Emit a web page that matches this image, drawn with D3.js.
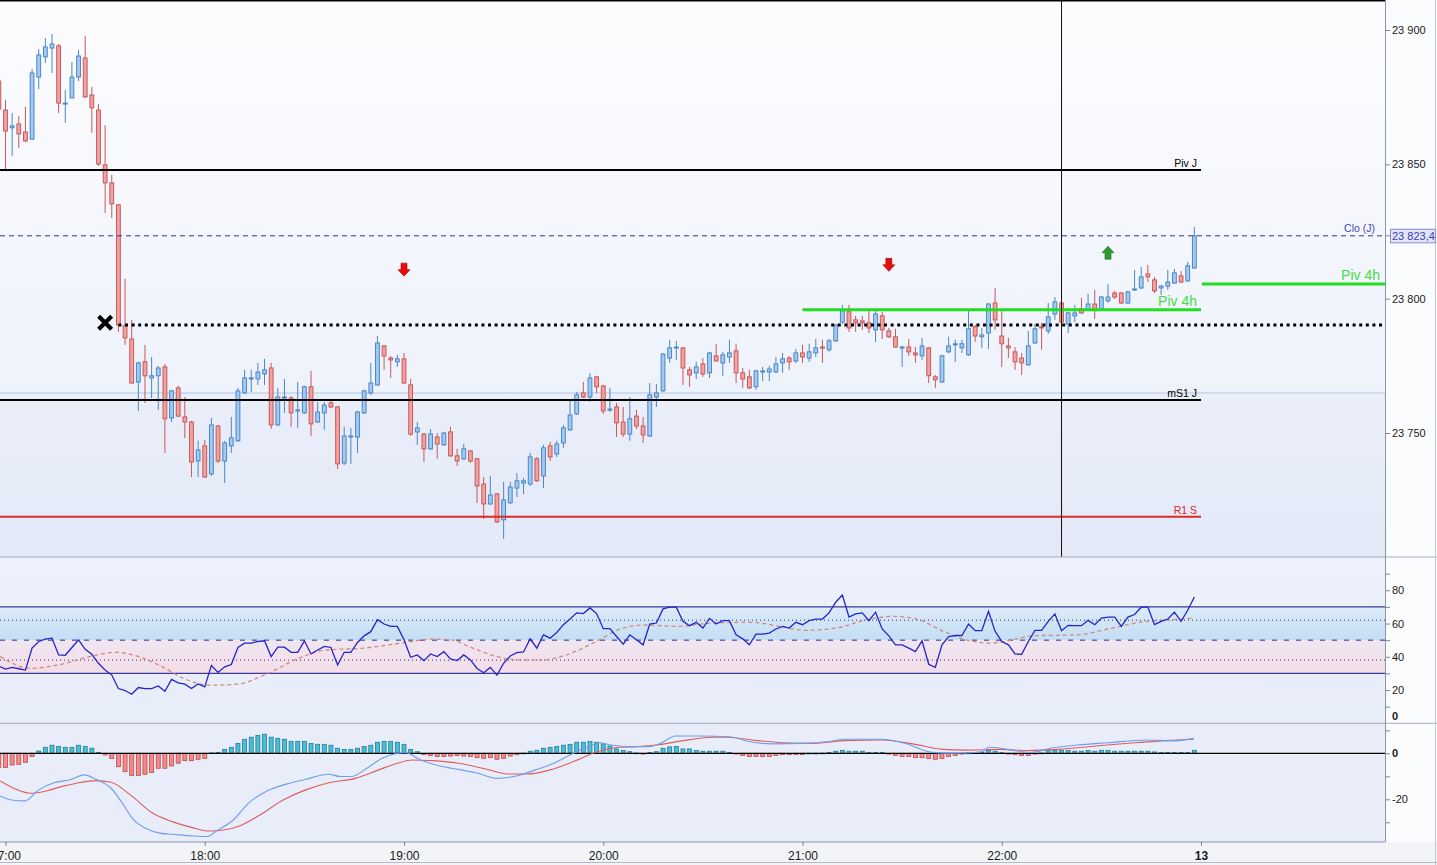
<!DOCTYPE html>
<html><head><meta charset="utf-8"><title>Chart</title>
<script src="https://cdn.jsdelivr.net/npm/d3@7/dist/d3.min.js"></script>
<style>
html,body{margin:0;padding:0;background:#fff;overflow:hidden}
svg{display:block;font-family:"Liberation Sans",Arial,Helvetica,sans-serif}
</style></head><body>
<svg id="chart" width="1437" height="865"></svg>
<script>
// ---------- DATA ----------
const candleStart = new Date(2024, 0, 12, 16, 58); // first (partial) 2-minute candle
const opens = [23881.0,23870.2,23863.6,23865.0,23862.0,23859.4,23882.5,23890.0,23893.3,23894.1,
23872.5,23874.7,23882.5,23889.6,23875.8,23870.2,23849.8,23843.1,23834.9,23789.9,
23785.0,23769.0,23776.5,23770.5,23771.3,23774.6,23755.6,23766.8,23756.0,23754.1,
23739.6,23745.2,23734.8,23752.6,23739.6,23745.2,23747.1,23764.9,23770.1,23770.1,
23772.0,23774.2,23753.0,23763.0,23763.0,23758.2,23757.5,23767.2,23754.1,23757.5,
23761.2,23759.7,23738.8,23748.5,23748.5,23757.5,23764.9,23767.9,23782.4,23777.9,
23776.5,23777.6,23767.9,23750.4,23749.6,23744.1,23748.5,23745.6,23750.4,23741.5,
23740.4,23743.3,23740.4,23731.0,23723.6,23727.3,23717.7,23724.0,23729.5,23731.4,
23731.0,23740.4,23734.0,23745.2,23742.2,23746.3,23751.2,23757.1,23764.9,23763.4,
23770.9,23767.5,23758.6,23759.7,23754.1,23749.6,23756.3,23752.6,23748.9,23763.4,
23765.7,23777.9,23781.7,23781.7,23773.5,23772.4,23775.7,23772.4,23778.7,23776.1,
23778.3,23780.6,23772.4,23770.9,23767.2,23772.7,23772.7,23772.7,23776.1,23777.9,
23776.8,23779.8,23777.9,23779.8,23782.0,23781.0,23784.3,23791.3,23795.1,23792.1,
23791.7,23791.0,23788.4,23793.6,23788.0,23785.8,23781.7,23782.0,23779.8,23778.7,
23781.7,23770.9,23769.0,23780.2,23782.8,23781.7,23779.1,23789.5,23785.8,23787.2,
23798.4,23786.1,23782.4,23780.2,23777.9,23775.4,23783.5,23789.5,23788.0,23794.3,
23798.4,23790.6,23793.6,23796.2,23795.8,23798.0,23796.2,23799.2,23802.1,23802.1,
23798.4,23803.3,23804.0,23809.2,23807.0,23804.0,23804.7,23805.8,23808.5,23806.6,
23811.4];
const highs = [23882.2,23873.9,23869.1,23868.0,23871.4,23885.5,23892.9,23897.0,23898.5,23894.8,
23877.7,23888.1,23892.6,23897.8,23878.8,23872.5,23864.6,23846.1,23835.3,23807.4,
23792.1,23776.5,23782.8,23778.3,23775.0,23775.7,23766.1,23767.6,23763.4,23754.5,
23747.1,23747.5,23755.6,23753.0,23747.1,23756.0,23766.8,23773.5,23773.5,23776.1,
23777.6,23776.1,23766.8,23770.1,23763.8,23769.0,23767.6,23773.1,23761.6,23761.6,
23761.9,23760.1,23752.3,23751.9,23758.2,23766.1,23776.1,23786.1,23782.8,23778.7,
23779.1,23779.8,23770.1,23754.1,23750.0,23751.5,23750.0,23750.4,23752.3,23744.1,
23745.9,23743.7,23740.7,23733.6,23734.0,23727.7,23731.8,23731.8,23735.1,23733.3,
23742.6,23741.1,23745.6,23746.7,23747.1,23753.0,23762.3,23765.3,23769.0,23772.3,
23771.3,23767.9,23766.8,23761.2,23759.7,23763.4,23758.6,23756.0,23768.6,23768.3,
23779.8,23784.7,23784.3,23782.0,23774.6,23776.5,23777.9,23780.2,23783.2,23780.2,
23784.7,23783.2,23774.2,23773.5,23773.5,23774.6,23775.0,23778.3,23779.8,23778.7,
23781.3,23782.8,23783.2,23785.0,23784.7,23785.0,23790.6,23797.7,23797.7,23793.6,
23793.6,23795.4,23795.4,23795.1,23789.1,23788.8,23782.4,23785.0,23782.0,23785.4,
23782.0,23771.6,23779.1,23785.8,23784.7,23784.7,23795.8,23790.2,23789.1,23798.4,
23804.0,23795.8,23785.4,23782.0,23779.8,23788.0,23790.6,23791.0,23798.4,23800.6,
23798.8,23795.1,23797.7,23800.3,23801.8,23803.3,23801.0,23805.5,23802.9,23802.5,
23802.9,23810.7,23811.8,23812.6,23808.1,23805.1,23810.7,23811.1,23810.3,23813.7,
23826.7];
const lows = [23869.5,23847.9,23853.1,23856.1,23858.3,23859.1,23878.0,23887.7,23884.0,23869.1,
23865.4,23874.7,23881.0,23874.7,23861.7,23849.4,23831.9,23830.0,23787.6,23782.8,
23768.3,23758.2,23761.2,23763.0,23758.6,23742.6,23754.1,23756.0,23748.2,23733.6,
23733.6,23733.3,23734.0,23738.8,23731.4,23742.6,23746.7,23764.5,23765.3,23767.9,
23767.9,23751.5,23752.6,23757.5,23752.3,23751.9,23757.1,23748.9,23753.8,23751.2,
23759.3,23736.6,23738.1,23738.5,23742.6,23757.1,23764.2,23767.5,23773.5,23770.5,
23774.6,23768.3,23748.9,23745.6,23739.2,23743.7,23740.4,23745.2,23741.1,23737.7,
23740.0,23738.8,23724.0,23718.0,23723.2,23716.5,23710.6,23723.6,23726.2,23727.3,
23730.3,23731.8,23729.5,23739.6,23741.1,23744.5,23750.8,23756.7,23763.0,23761.6,
23764.9,23757.1,23757.8,23748.5,23748.5,23747.1,23751.5,23746.3,23748.5,23759.7,
23765.3,23776.1,23777.2,23767.9,23767.2,23770.1,23770.9,23770.5,23776.5,23771.2,
23776.1,23768.6,23766.8,23766.4,23766.1,23769.4,23769.4,23772.4,23772.4,23773.5,
23776.1,23776.1,23776.5,23778.3,23776.1,23780.2,23783.9,23790.6,23787.6,23787.6,
23788.4,23787.2,23783.9,23785.0,23785.4,23781.7,23774.6,23778.7,23776.1,23777.2,
23768.6,23766.8,23768.6,23779.8,23776.5,23779.8,23778.7,23783.9,23781.7,23781.3,
23788.4,23774.6,23777.9,23773.5,23771.6,23775.0,23783.2,23781.0,23786.9,23792.1,
23790.2,23787.2,23791.3,23794.3,23795.4,23792.5,23795.8,23798.4,23799.9,23798.0,
23798.0,23802.9,23803.6,23806.2,23802.1,23801.4,23803.3,23805.5,23805.8,23806.2,
23811.1];
const closes = [23870.6,23862.4,23864.3,23861.3,23858.7,23884.0,23890.7,23893.7,23894.8,23872.8,
23872.8,23882.5,23890.3,23875.1,23871.0,23850.1,23843.1,23835.3,23790.2,23785.4,
23768.6,23776.1,23771.3,23771.3,23774.2,23755.3,23765.7,23756.3,23754.1,23739.2,
23743.7,23733.6,23753.0,23739.6,23746.3,23748.2,23765.7,23770.5,23770.5,23772.7,
23773.5,23753.0,23763.4,23763.4,23757.5,23758.6,23767.2,23753.4,23757.8,23760.4,
23759.7,23738.5,23748.9,23748.9,23757.8,23765.7,23768.6,23783.5,23778.7,23777.2,
23777.6,23768.6,23749.6,23751.9,23744.1,23749.6,23745.9,23750.0,23741.5,23739.6,
23744.1,23739.6,23730.3,23723.6,23726.9,23716.9,23725.1,23729.9,23732.2,23732.2,
23741.1,23732.2,23744.5,23741.1,23745.9,23751.9,23756.7,23764.2,23763.4,23770.5,
23767.2,23758.2,23758.9,23753.8,23749.6,23755.3,23752.6,23749.3,23764.2,23764.9,
23779.4,23781.7,23782.0,23774.2,23771.6,23774.6,23772.0,23779.8,23776.8,23779.1,
23779.8,23772.4,23770.1,23766.8,23773.1,23773.1,23773.8,23775.7,23777.6,23776.5,
23779.8,23778.3,23780.2,23781.7,23781.7,23784.3,23790.2,23795.5,23789.1,23791.0,
23791.0,23789.1,23794.3,23788.4,23785.8,23782.0,23782.0,23780.2,23779.1,23782.4,
23771.3,23769.8,23778.7,23782.4,23783.2,23783.2,23788.8,23786.1,23786.5,23798.0,
23792.1,23783.2,23781.7,23776.5,23776.1,23782.4,23788.8,23789.1,23793.2,23798.8,
23791.3,23794.7,23794.7,23794.7,23798.0,23796.2,23800.6,23800.6,23800.6,23798.4,
23802.5,23803.6,23808.1,23808.1,23802.9,23804.7,23806.2,23809.6,23806.2,23812.2,
23823.4];
const rsiValues = [34.4,32.6,33.6,32.8,32.0,45.2,49.2,50.6,51.2,41.1,
40.9,45.6,50.2,44.5,41.5,36.1,32.0,29.0,20.9,19.7,
17.5,21.5,20.9,20.9,22.5,19.3,26.4,24.3,23.5,20.9,
23.7,21.9,34.8,30.6,34.0,35.3,45.6,48.2,48.2,49.2,
49.6,40.1,45.8,45.8,42.7,42.7,49.6,41.7,44.1,46.2,
45.6,35.1,42.7,42.7,48.6,52.6,55.1,62.3,59.7,58.3,
58.3,50.2,39.7,41.1,37.7,41.7,40.1,43.1,38.7,37.7,
41.1,38.1,33.0,30.4,33.6,29.0,36.1,40.5,42.5,42.9,
50.8,45.2,53.2,51.2,54.6,59.3,62.7,66.4,66.0,69.4,
66.0,56.9,56.9,52.2,47.6,53.2,50.2,47.2,59.7,60.3,
68.8,69.8,69.8,61.3,58.7,60.7,57.3,63.1,59.7,61.7,
61.7,53.2,50.8,47.2,53.6,53.6,54.2,56.7,58.3,57.3,
60.7,59.3,61.7,62.7,62.7,66.4,72.8,77.1,63.9,65.8,
66.4,61.7,66.8,56.7,52.6,47.2,47.2,45.2,43.1,49.6,
35.5,33.6,47.2,52.2,52.8,52.8,59.7,55.7,55.7,67.4,
55.3,49.2,47.2,41.7,41.5,49.2,55.9,55.9,61.3,65.8,
55.7,58.9,58.7,58.7,61.9,59.3,63.3,63.9,63.9,58.3,
63.9,65.4,69.8,69.8,59.3,61.3,62.7,66.8,61.3,68.0,
75.9];
// RSI moving average, read at sparse points: [candle position, value]
const rsiMaPoints = [[0.2,40.1],[4.8,33.0],[8.8,35.0],[14.6,41.0],[17.5,42.7],[20.3,41.0],[24.4,34.4],[27.8,27.0],[31.8,22.9],[35.9,23.5],[40.5,30.0],[45.1,39.0],[49.1,44.0],[54.9,45.2],[60.6,48.2],[65.2,50.6],[68.1,50.2],[71.0,45.8],[75.0,40.1],[78.5,38.1],[81.9,38.1],[85.4,41.1],[90.4,50.2],[93.3,56.3],[97.3,59.1],[101.9,58.3],[107.7,60.3],[113.4,60.7],[117.5,58.3],[121.5,55.9],[126.1,57.3],[130.7,62.3],[134.7,64.3],[138.2,62.7],[142.2,55.3],[145.7,50.2],[149.1,48.2],[152.6,50.2],[155.5,52.6],[162.4,53.2],[167.0,56.7],[172.7,61.3],[176.7,62.3],[179.9,63.3]];
const macdHist = [-6.2,-6.2,-5.1,-4.8,-3.9,-1.4,1.0,2.6,3.5,3.0,
2.6,2.6,3.5,3.0,2.2,0.4,-0.7,-2.2,-5.8,-8.0,
-9.6,-9.6,-9.1,-8.3,-6.5,-6.5,-5.5,-4.3,-3.2,-3.2,
-2.6,-2.2,0.2,0.4,1.7,2.6,4.3,6.1,7.0,7.8,
8.3,7.0,6.5,6.1,5.2,5.2,5.2,4.3,3.9,3.9,
3.5,2.2,1.7,1.7,2.2,3.0,3.5,4.8,5.2,5.2,
4.8,3.9,1.7,0.7,-0.6,-1.0,-1.4,-1.4,-1.2,-1.0,
-1.2,-1.4,-1.9,-2.2,-1.9,-2.6,-2.2,-1.2,-0.6,0.1,
0.9,1.3,2.2,2.6,3.0,3.5,3.9,4.8,4.8,5.2,
4.8,4.1,3.2,1.9,1.2,0.7,0.15,-0.1,0.4,0.7,
2.2,2.8,3.0,1.9,1.9,1.2,0.9,0.9,0.9,0.9,
0.4,-0.2,-0.9,-1.4,-1.4,-1.4,-1.4,-0.9,-0.6,-0.6,
-0.6,-0.6,0.05,0.05,0.1,0.4,0.9,1.3,0.9,0.9,
0.9,0.4,0.4,0.4,-0.3,-0.9,-1.4,-1.4,-1.9,-1.9,
-2.3,-2.6,-2.3,-1.4,-0.9,-0.3,0.15,0.4,0.4,1.2,
0.9,0.3,-0.1,-0.6,-0.9,-0.9,-0.1,0.15,1.2,1.3,
1.3,1.2,0.9,0.9,1.2,0.9,1.3,1.3,0.9,0.9,
0.9,0.9,0.9,0.9,0.6,0.4,0.4,0.4,0.4,0.4,
1.3];
const macdLinePoints = [[0.2,-18.6],[1.9,-20.3],[3.9,-20.7],[6.0,-15.9],[8.3,-12.8],[10.6,-11.6],[12.9,-9.4],[14.6,-11.3],[16.9,-15.2],[18.6,-21.7],[20.1,-28.3],[22.1,-32.6],[24.4,-34.8],[26.1,-35.2],[29.0,-35.9],[31.3,-36.2],[33.0,-33.3],[35.3,-29.0],[37.6,-21.7],[40.5,-16.2],[43.4,-13.3],[46.2,-11.3],[49.7,-9.1],[51.4,-10.1],[53.1,-10.1],[55.4,-6.5],[57.7,-2.2],[60.0,0],[61.2,0.3],[63.5,-2.9],[66.4,-5.5],[69.2,-7.0],[72.1,-8.7],[75.0,-10.9],[77.9,-9.9],[80.8,-7.2],[83.6,-4.3],[86.5,0],[88.8,2.9],[90.4,4.6],[92.2,3.6],[95.0,2.9],[97.9,2.9],[99.6,4.3],[101.9,7.5],[105.4,7.5],[110.0,7.2],[112.9,5.1],[116.3,4.1],[120.9,4.3],[124.9,5.1],[127.3,6.1],[133.0,6.1],[136.5,4.3],[140.5,0.4],[144.0,0],[148.0,0.7],[149.1,2.6],[150.9,2.2],[153.2,1.0],[155.5,0.4],[158.3,2.2],[162.4,3.6],[167.0,4.6],[172.7,5.8],[176.7,5.4],[179.9,6.5]];
const signalLinePoints = [[0.2,-12.0],[2.5,-15.5],[4.8,-17.4],[7.1,-16.4],[9.4,-14.5],[11.7,-13.0],[14.6,-11.9],[16.9,-12.6],[19.8,-18.1],[23.2,-26.1],[26.1,-29.7],[29.0,-32.2],[31.8,-33.8],[35.9,-31.9],[39.3,-26.8],[42.8,-20.3],[46.2,-15.9],[49.7,-12.8],[53.7,-10.9],[57.2,-7.2],[60.0,-4.3],[62.3,-2.9],[65.2,-3.2],[69.2,-4.3],[73.3,-6.8],[76.7,-9.0],[79.6,-9.0],[83.0,-7.2],[86.5,-3.6],[90.4,1.0],[93.3,2.6],[96.2,2.9],[99.1,3.6],[103.1,5.5],[107.7,7.0],[110.0,7.0],[113.4,5.8],[118.0,4.6],[122.7,4.3],[127.3,5.5],[133.0,5.8],[137.6,4.1],[142.2,1.7],[145.7,1.4],[150.9,1.7],[154.9,1.2],[159.5,1.7],[165.2,3.2],[171.0,4.6],[175.6,5.5],[179.9,6.1]];

const priceTicks = [23750, 23800, 23850, 23900];
const rsiTicks = [10,20,30,40,50,60,70,80,90];
const rsiLabeled = [20,40,60,80];
const macdTicks = [10,0,-10,-20,-30];
const timeTickLabels = ["17:00","18:00","19:00","20:00","21:00","22:00","13"];
const levelNames = ["Piv J","mS1 J","R1 S"];
const levelValues = [23847.9, 23762.3, 23718.8];
const levelColors = ["#000000","#000000","#e02828"];
const zoneLevel = 23764.9;
const dottedLevel = 23790.2, dottedStartK = 18;
const piv4hValues = [23795.9, 23805.5];
const piv4hStartK = 121;
const closeLevel = 23823.4;
const cursorK = 160;
const downArrows = [[61, 23810.8],[134, 23812.6]];
const upArrows = [[167, 23817.1]];
const crossMark = [16, 23791.0];

// ---------- SETUP ----------
const W = 1437, H = 865, plotR = 1385;
const mainTop = 0, mainBot = 557, rsiBot = 723.3, macdBot = 842;
const svg = d3.select("#chart");
const defs = svg.append("defs");
function grad(id, stops){
  const g = defs.append("linearGradient").attr("id", id).attr("x1",0).attr("y1",0).attr("x2",0).attr("y2",1);
  stops.forEach(([o,c]) => g.append("stop").attr("offset", o).attr("stop-color", c));
}
grad("gMainTop", [[0,"#fdfdff"],[1,"#eef2fb"]]);
grad("gMainBot", [[0,"#e9eef9"],[1,"#e3e9f7"]]);
grad("gRsiHi", [[0,"#dcebf9"],[1,"#c4def4"]]);
grad("gRsiLo", [[0,"#efe6f1"],[1,"#f4dde7"]]);
grad("gRsiBg", [[0,"#edf1fb"],[1,"#e7edf9"]]);
defs.append("clipPath").attr("id","clipMain").append("rect").attr("x",0).attr("y",mainTop).attr("width",plotR).attr("height",mainBot-mainTop);
defs.append("clipPath").attr("id","clipRsi").append("rect").attr("x",0).attr("y",mainBot).attr("width",plotR).attr("height",rsiBot-mainBot);
defs.append("clipPath").attr("id","clipMacd").append("rect").attr("x",0).attr("y",rsiBot).attr("width",plotR).attr("height",macdBot-rsiBot);

const times = d3.range(opens.length).map(k => d3.timeMinute.offset(candleStart, 2*k));
const x = d3.scaleTime()
  .domain([new Date(2024,0,12,17,0), new Date(2024,0,12,23,0)])
  .range([5.5, 1201]);
const xAt = k => x(new Date(+candleStart + k*120000));
const y = d3.scaleLinear().domain([23750, 23900]).range([433, 30]);
const yRsi = d3.scaleLinear().domain([0, 100]).range([rsiBot, mainBot]);
const yMacd = d3.scaleLinear().domain([-20, 0]).range([799.3, 753.3]);
const loc = d3.formatLocale({decimal: ",", thousands: " ", grouping: [3], currency: ["",""]});
const fmt0 = loc.format(",.0f"), fmt1 = loc.format(",.1f");

// ---------- BACKGROUNDS ----------
svg.append("rect").attr("width",W).attr("height",H).attr("fill","#fbfcfe");
const yZone = y(zoneLevel);
svg.append("rect").attr("x",0).attr("y",mainTop).attr("width",plotR).attr("height",yZone-mainTop).attr("fill","url(#gMainTop)");
svg.append("rect").attr("x",0).attr("y",yZone).attr("width",plotR).attr("height",mainBot-yZone).attr("fill","url(#gMainBot)");
svg.append("rect").attr("x",0).attr("y",mainBot).attr("width",plotR).attr("height",rsiBot-mainBot).attr("fill","url(#gRsiBg)");
svg.append("rect").attr("x",0).attr("y",yRsi(70)).attr("width",plotR).attr("height",yRsi(50)-yRsi(70)).attr("fill","url(#gRsiHi)");
svg.append("rect").attr("x",0).attr("y",yRsi(50)).attr("width",plotR).attr("height",yRsi(30)-yRsi(50)).attr("fill","url(#gRsiLo)");
svg.append("rect").attr("x",0).attr("y",rsiBot).attr("width",plotR).attr("height",macdBot-rsiBot).attr("fill","#e8edf9");
svg.append("rect").attr("x",0).attr("y",macdBot).attr("width",W).attr("height",H-macdBot).attr("fill","#f2f4f8");

// ---------- MAIN PANEL ----------
const gMain = svg.append("g").attr("clip-path","url(#clipMain)");
gMain.append("line").attr("x1",0).attr("x2",plotR).attr("y1",yZone).attr("y2",yZone).attr("stroke","#b6c6e2").attr("stroke-width",1);

const candles = opens.map((o,k) => ({k, t: times[k], o, h: highs[k], l: lows[k], c: closes[k]}));
const upStroke = "#4a86c6", upFill = "#a3cbf2", dnStroke = "#c85858", dnFill = "#f3a2a2";
const bw = 3.8;
gMain.append("g").selectAll("line").data(candles).join("line")
  .attr("x1", d => x(d.t)).attr("x2", d => x(d.t))
  .attr("y1", d => y(d.h)).attr("y2", d => y(d.l))
  .attr("stroke", d => d.c >= d.o ? upStroke : dnStroke).attr("stroke-width",1);
gMain.append("g").selectAll("rect").data(candles).join("rect")
  .attr("x", d => x(d.t) - bw/2)
  .attr("y", d => y(Math.max(d.o, d.c)))
  .attr("width", bw)
  .attr("height", d => Math.max(1, Math.abs(y(d.o) - y(d.c))))
  .attr("fill", d => d.c >= d.o ? upFill : dnFill)
  .attr("stroke", d => d.c >= d.o ? upStroke : dnStroke).attr("stroke-width",1);

// close dashed line
gMain.append("line").attr("x1",0).attr("x2",plotR).attr("y1",y(closeLevel)).attr("y2",y(closeLevel))
  .attr("stroke","#34349a").attr("stroke-width",1).attr("stroke-dasharray","5,4");
// level lines
const xLevelEnd = x(new Date(2024,0,12,23,0));
levelValues.forEach((v,i) => {
  gMain.append("line").attr("x1",0).attr("x2",xLevelEnd).attr("y1",y(v)).attr("y2",y(v))
    .attr("stroke",levelColors[i]).attr("stroke-width",2);
  svg.append("text").attr("x",xLevelEnd-4).attr("y",y(v)-3).attr("text-anchor","end")
    .attr("font-size",10.5).attr("fill",levelColors[i]).text(levelNames[i]);
});
// dotted level
gMain.append("line").attr("x1",xAt(dottedStartK)).attr("x2",plotR).attr("y1",y(dottedLevel)).attr("y2",y(dottedLevel))
  .attr("stroke","#000").attr("stroke-width",3).attr("stroke-dasharray","3,3.6");
// Piv 4h lines
gMain.append("line").attr("x1",xAt(piv4hStartK)).attr("x2",xLevelEnd).attr("y1",y(piv4hValues[0])).attr("y2",y(piv4hValues[0]))
  .attr("stroke","#22dd22").attr("stroke-width",3);
gMain.append("line").attr("x1",xLevelEnd+1).attr("x2",plotR).attr("y1",y(piv4hValues[1])).attr("y2",y(piv4hValues[1]))
  .attr("stroke","#22dd22").attr("stroke-width",3);
svg.append("text").attr("x",xLevelEnd-4).attr("y",y(piv4hValues[0])-4).attr("text-anchor","end")
  .attr("font-size",14).attr("fill","#44dc44").text("Piv 4h");
svg.append("text").attr("x",plotR-5).attr("y",y(piv4hValues[1])-4).attr("text-anchor","end")
  .attr("font-size",14).attr("fill","#44dc44").text("Piv 4h");
// cursor vertical line
gMain.append("line").attr("x1",xAt(cursorK)).attr("x2",xAt(cursorK)).attr("y1",mainTop).attr("y2",mainBot)
  .attr("stroke","#111").attr("stroke-width",1);
// arrows
downArrows.forEach(([k,v]) => {
  gMain.append("path").attr("transform",`translate(${xAt(k)},${y(v)})`)
    .attr("d","M-3,-6.5 L3,-6.5 L3,0 L6,0 L0,6.5 L-6,0 L-3,0 Z")
    .attr("fill","#e60d0d").attr("stroke","#a80000").attr("stroke-width",0.6);
});
upArrows.forEach(([k,v]) => {
  gMain.append("path").attr("transform",`translate(${xAt(k)},${y(v)})`)
    .attr("d","M-3,6.5 L3,6.5 L3,0 L6,0 L0,-6.5 L-6,0 L-3,0 Z")
    .attr("fill","#2f9a32").attr("stroke","#1c6a1e").attr("stroke-width",0.6);
});
// cross mark
gMain.append("path").attr("transform",`translate(${xAt(crossMark[0])},${y(crossMark[1])})`)
  .attr("d","M-6.5,-6.5 L6.5,6.5 M6.5,-6.5 L-6.5,6.5")
  .attr("stroke","#000").attr("stroke-width",4.2);
// top border
svg.append("line").attr("x1",0).attr("x2",plotR).attr("y1",0.8).attr("y2",0.8).attr("stroke","#000").attr("stroke-width",1.6);

// Clo label
svg.append("text").attr("x",plotR-10).attr("y",y(closeLevel)-4).attr("text-anchor","end")
  .attr("font-size",10.5).attr("fill","#4646c0").text("Clo (J)");

// ---------- RSI PANEL ----------
const gRsi = svg.append("g").attr("clip-path","url(#clipRsi)");
[70,30].forEach(v =>
  gRsi.append("line").attr("x1",0).attr("x2",plotR).attr("y1",yRsi(v)).attr("y2",yRsi(v))
    .attr("stroke","#3a3aa0").attr("stroke-width",1.2));
gRsi.append("line").attr("x1",0).attr("x2",plotR).attr("y1",yRsi(50)).attr("y2",yRsi(50))
  .attr("stroke","#2a2a80").attr("stroke-width",1).attr("stroke-dasharray","5,7");
[62,38].forEach(v => gRsi.append("line").attr("x1",0).attr("x2",plotR).attr("y1",yRsi(v)).attr("y2",yRsi(v))
  .attr("stroke","#2a2a80").attr("stroke-width",1).attr("stroke-dasharray","1,3"));
gRsi.append("path").datum(rsiMaPoints)
  .attr("d", d3.line().x(d => xAt(d[0])).y(d => yRsi(d[1])).curve(d3.curveMonotoneX))
  .attr("fill","none").attr("stroke","#d38a7e").attr("stroke-width",1.3).attr("stroke-dasharray","4,3");
gRsi.append("path").datum(rsiValues)
  .attr("d", d3.line().x((d,k) => xAt(k)).y(d => yRsi(d)))
  .attr("fill","none").attr("stroke","#2424c8").attr("stroke-width",1.3);

// ---------- MACD PANEL ----------
const gMacd = svg.append("g").attr("clip-path","url(#clipMacd)");
gMacd.append("g").selectAll("rect").data(macdHist).join("rect")
  .attr("x", (d,k) => xAt(k) - 2)
  .attr("y", d => yMacd(Math.max(0,d)))
  .attr("width", 4)
  .attr("height", d => Math.max(0.8, Math.abs(yMacd(d) - yMacd(0))))
  .attr("fill", d => d >= 0 ? "#4cbdd6" : "#f28a8a")
  .attr("stroke", d => d >= 0 ? "#217f97" : "#c24848").attr("stroke-width",0.8);
gMacd.append("line").attr("x1",0).attr("x2",plotR).attr("y1",yMacd(0)).attr("y2",yMacd(0))
  .attr("stroke","#000").attr("stroke-width",1.2);
gMacd.append("path").datum(signalLinePoints)
  .attr("d", d3.line().x(d => xAt(d[0])).y(d => yMacd(d[1])).curve(d3.curveMonotoneX))
  .attr("fill","none").attr("stroke","#e05c5c").attr("stroke-width",1.1);
gMacd.append("path").datum(macdLinePoints)
  .attr("d", d3.line().x(d => xAt(d[0])).y(d => yMacd(d[1])).curve(d3.curveMonotoneX))
  .attr("fill","none").attr("stroke","#6f9eec").attr("stroke-width",1.1);

// ---------- SEPARATORS / FRAMES ----------
svg.append("line").attr("x1",0).attr("x2",W).attr("y1",mainBot).attr("y2",mainBot).attr("stroke","#a4acba");
svg.append("line").attr("x1",0).attr("x2",W).attr("y1",rsiBot).attr("y2",rsiBot).attr("stroke","#a4acba");
svg.append("line").attr("x1",plotR+0.5).attr("x2",plotR+0.5).attr("y1",0).attr("y2",macdBot).attr("stroke","#8a96a6");
svg.append("line").attr("x1",W-1.5).attr("x2",W-1.5).attr("y1",0).attr("y2",H).attr("stroke","#c4cad4");
svg.append("line").attr("x1",0).attr("x2",W).attr("y1",H-2.5).attr("y2",H-2.5).attr("stroke","#b4bac6");

// ---------- AXES ----------
function styleAxis(g){
  g.select(".domain").remove();
  g.selectAll(".tick line").attr("stroke","#7a8696");
  g.selectAll(".tick text").attr("fill","#1a1a1a").attr("font-family","Liberation Sans, Arial, sans-serif");
}
const axP = svg.append("g").attr("transform",`translate(${plotR},0)`)
  .call(d3.axisRight(y).tickValues(priceTicks).tickSize(5).tickPadding(2).tickFormat(fmt0));
styleAxis(axP); axP.selectAll(".tick text").attr("font-size",11);

// close price box
const yc = y(closeLevel);
svg.append("rect").attr("x",plotR+5.5).attr("y",yc-6.5).attr("width",45).attr("height",13.5)
  .attr("fill","#e2e5fb").attr("stroke","#8a8ad2").attr("stroke-width",1);
svg.append("line").attr("x1",plotR).attr("x2",plotR+5).attr("y1",yc).attr("y2",yc).attr("stroke","#7a8696");
svg.append("text").attr("x",plotR+7).attr("y",yc+4).attr("font-size",11).attr("fill","#3c3cb8").text(fmt1(closeLevel));

const axR = svg.append("g").attr("transform",`translate(${plotR},0)`)
  .call(d3.axisRight(yRsi).tickValues(rsiTicks).tickSize(5).tickPadding(2)
    .tickFormat(d => rsiLabeled.includes(d) ? d : ""));
styleAxis(axR); axR.selectAll(".tick text").attr("font-size",11);
svg.append("text").attr("x",plotR+7).attr("y",yRsi(0)-3.5).attr("font-size",11).attr("font-weight","bold").attr("fill","#1a1a1a").text("0");

const axM = svg.append("g").attr("transform",`translate(${plotR},0)`)
  .call(d3.axisRight(yMacd).tickValues(macdTicks).tickSize(5).tickPadding(2)
    .tickFormat(d => d === 0 ? "0" : (d === -20 ? "-20" : "")));
styleAxis(axM);
axM.selectAll(".tick text").attr("font-size",11).attr("font-weight", d => d === 0 ? "bold" : "normal");

const hourTicks = d3.range(17, 24).map(h => new Date(2024,0,12,h,0));
svg.append("line").attr("x1",0).attr("x2",plotR).attr("y1",macdBot).attr("y2",macdBot).attr("stroke","#8a96a6");
const axT = svg.append("g").attr("transform",`translate(0,${macdBot})`)
  .call(d3.axisBottom(x).tickValues(hourTicks).tickSize(4).tickPadding(5)
    .tickFormat((d,i) => timeTickLabels[i]));
styleAxis(axT);
axT.selectAll(".tick text").attr("font-size",12)
  .attr("font-weight", (d,i) => i === timeTickLabels.length-1 ? "bold" : "normal");
</script>
</body></html>
